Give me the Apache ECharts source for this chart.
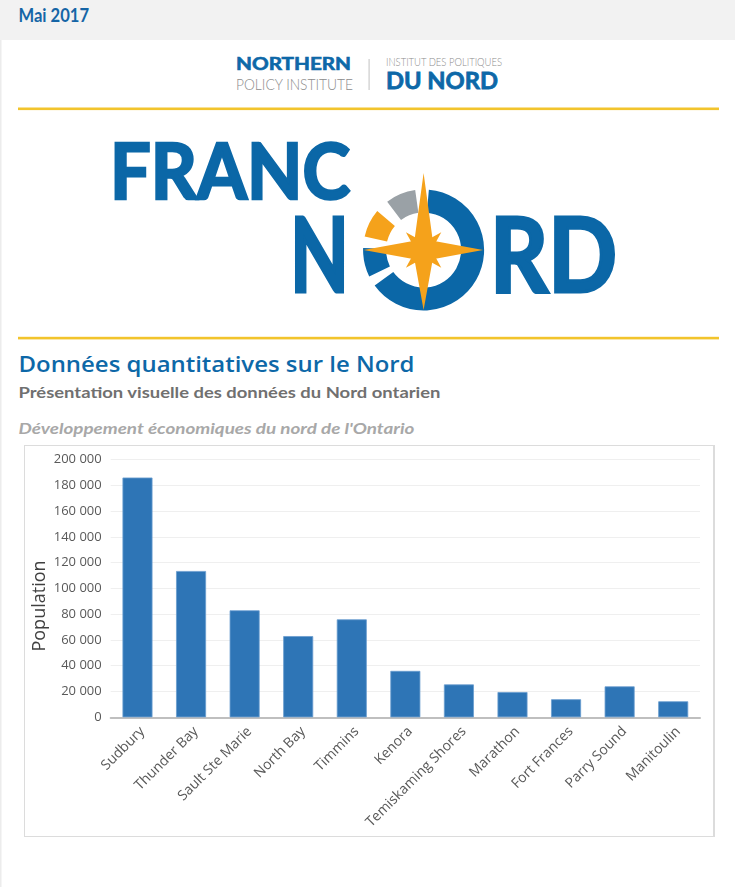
<!DOCTYPE html>
<html><head><meta charset="utf-8">
<script src="https://cdn.jsdelivr.net/npm/echarts@6/dist/echarts.min.js"></script>
<style>
html,body{margin:0;padding:0;background:#fff;}
#page{position:relative;width:735px;height:887px;overflow:hidden;background:#fff;}
#deco{position:absolute;left:0;top:0;}
#box{position:absolute;left:24px;top:445px;width:691px;height:392px;box-sizing:border-box;border:1.5px solid #dcdcdc;border-right-width:2px;background:#fff;}
#chart{position:absolute;left:24px;top:445px;width:690px;height:392px;}
</style></head>
<body><div id="page">
<svg id="deco" width="735" height="887" xmlns="http://www.w3.org/2000/svg">
  <rect x="0" y="0" width="735" height="40" fill="#f2f2f2"/>
  <rect x="0" y="40" width="1.5" height="847" fill="#ececec"/>
  <text x="18.5" y="21.7" font-family="Lato" font-weight="700" font-size="18.7" fill="#1565a6" textLength="70.5" lengthAdjust="spacingAndGlyphs">Mai 2017</text>

  <text x="236" y="70" font-family="Lato" font-weight="700" font-size="16.7" fill="#0d68a8" stroke="#0d68a8" stroke-width="0.6" textLength="115" lengthAdjust="spacingAndGlyphs">NORTHERN</text>
  <text x="236" y="90" font-family="Lato" font-weight="300" font-size="15" fill="#8c8c8c" textLength="117" lengthAdjust="spacingAndGlyphs">POLICY INSTITUTE</text>
  <rect x="368.5" y="59" width="1.2" height="31" fill="#cccccc"/>
  <text x="386" y="66" font-family="Lato" font-weight="300" font-size="11" fill="#8c8c8c" textLength="116" lengthAdjust="spacingAndGlyphs">INSTITUT DES POLITIQUES</text>
  <text x="386" y="89" font-family="Lato" font-weight="700" font-size="22.7" fill="#0d68a8" stroke="#0d68a8" stroke-width="0.8" textLength="112" lengthAdjust="spacingAndGlyphs">DU NORD</text>

  <rect x="18" y="107.5" width="701" height="2.6" fill="#f2c42c"/>

  <text x="110" y="199" font-family="Lato" font-weight="700" font-size="76" fill="#0b67a7" stroke="#0b67a7" stroke-width="2.6" stroke-linejoin="miter" textLength="240" lengthAdjust="spacingAndGlyphs">FRANC</text>
  <text x="290" y="292" font-family="Lato" font-weight="700" font-size="104" fill="#0b67a7" stroke="#0b67a7" stroke-width="3.2" stroke-linejoin="miter" textLength="59" lengthAdjust="spacingAndGlyphs">N</text>
  <text x="490" y="292" font-family="Lato" font-weight="700" font-size="104" fill="#0b67a7" stroke="#0b67a7" stroke-width="3.2" stroke-linejoin="miter" textLength="127" lengthAdjust="spacingAndGlyphs">RD</text>
  <g id="ring" fill="none" stroke-width="23"></g>
  <polygon id="star2" fill="#f5a21b"/>
  <polygon id="star1" fill="#f5a21b"/>

  <rect x="18" y="336.8" width="701" height="2.6" fill="#f2c42c"/>

  <text x="18.5" y="372" font-family="Open Sans" font-weight="600" font-size="22" fill="#0d68a8" textLength="396" lengthAdjust="spacingAndGlyphs">Données quantitatives sur le Nord</text>
  <text x="18.5" y="397.5" font-family="Lato" font-weight="700" font-size="15.5" fill="#707070" textLength="422" lengthAdjust="spacingAndGlyphs">Présentation visuelle des données du Nord ontarien</text>
  <text x="18.5" y="434" font-family="Lato" font-weight="700" font-style="italic" font-size="14.5" fill="#a8a8a8" textLength="396" lengthAdjust="spacingAndGlyphs">Développement économiques du nord de l'Ontario</text>
</svg>
<div id="box"></div>
<div id="chart"></div>
</div>
<script>
// ---- decoration (logo ring + compass star) ----
(function(){
  const NS='http://www.w3.org/2000/svg';
  const cx=423.6, cy=250, r=49;
  function pt(a,rr){const t=a*Math.PI/180;return [(cx+rr*Math.cos(t)).toFixed(2),(cy-rr*Math.sin(t)).toFixed(2)];}
  function arc(a1,a2){const p1=pt(a1,r),p2=pt(a2,r);const large=(a2-a1)>180?1:0;return 'M'+p1.join(' ')+' A'+r+' '+r+' 0 '+large+' 0 '+p2.join(' ');}
  const segs=[[216,445,'#0b67a7'],[178,206,'#0b67a7'],[140,167,'#f5a21b'],[98,127,'#9aa1a6']];
  const g=document.getElementById('ring');
  segs.forEach(s=>{const p=document.createElementNS(NS,'path');p.setAttribute('d',arc(s[0],s[1]));p.setAttribute('stroke',s[2]);g.appendChild(p);});
  const big=[[90,77],[45,13],[0,59.5],[315,13],[270,60],[225,13],[180,60],[135,13]];
  const small=[[90,8],[45,25],[0,8],[315,25],[270,8],[225,25],[180,8],[135,25]];
  document.getElementById('star1').setAttribute('points',big.map(v=>pt(v[0],v[1]).join(',')).join(' '));
  document.getElementById('star2').setAttribute('points',small.map(v=>pt(v[0],v[1]).join(',')).join(' '));
})();

// ---- data ----
const categories = ['Sudbury','Thunder Bay','Sault Ste Marie','North Bay','Timmins','Kenora','Temiskaming Shores','Marathon','Fort Frances','Parry Sound','Manitoulin'];
const population = [186000, 113500, 83000, 63000, 76000, 36000, 25500, 19600, 14000, 24000, 12400];
const yMin = 0, yMax = 200000, yStep = 20000;
const axisName = 'Population';

function fmt(v){return String(v).replace(/\B(?=(\d{3})+(?!\d))/g,' ');}

const chart = echarts.init(document.getElementById('chart'), null, {renderer:'canvas'});
chart.setOption({
  animation:false,
  grid:{left:86.7, top:14.5, width:589.3, height:257.8},
  xAxis:{
    type:'category', data:categories,
    axisLine:{lineStyle:{color:'#bfbfbf', width:2}},
    axisTick:{show:false},
    axisLabel:{interval:0, rotate:45, margin:7, align:'right', verticalAlign:'top', color:'#595959', fontFamily:'Open Sans', fontSize:14}
  },
  yAxis:{
    type:'value', min:yMin, max:yMax, interval:yStep,
    axisLine:{show:false}, axisTick:{show:false},
    splitLine:{lineStyle:{color:'#efefef', width:1.2}},
    axisLabel:{margin:9, color:'#595959', fontFamily:'Open Sans', fontSize:13, formatter:fmt}
  },
  series:[{type:'bar', data:population, barWidth:'56%',
    itemStyle:{color:'#2e75b6', borderColor:'#6a9dcf', borderWidth:0.8}}],
  graphic:[{type:'text', x:16, y:161, rotation:Math.PI/2,
    style:{text:axisName, align:'center', verticalAlign:'middle', fontFamily:'Open Sans', fontSize:18, fill:'#404040'}}]
});
</script>
</body></html>
